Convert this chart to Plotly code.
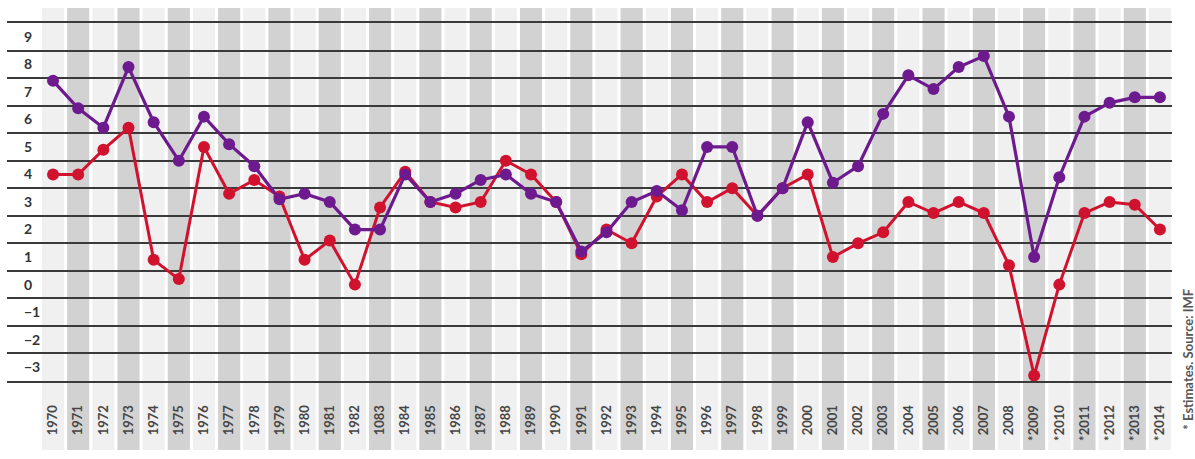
import plotly.graph_objects as go

years = list(range(1970, 2015))
year_labels = [str(y) for y in years]
year_labels[years.index(1983)] = "1083"
for y in range(2009, 2015):
    year_labels[years.index(y)] = "*" + str(y)

purple_values = [7.4, 6.4, 5.7, 7.9, 5.9, 4.5, 6.1, 5.1, 4.3, 3.1,
                 3.3, 3.0, 2.0, 2.0, 4.0, 3.0, 3.3, 3.8, 4.0, 3.3,
                 3.0, 1.2, 1.9, 3.0, 3.4, 2.7, 5.0, 5.0, 2.5, 3.5,
                 5.9, 3.7, 4.3, 6.2, 7.6, 7.1, 7.9, 8.3, 6.1, 1.0,
                 3.9, 6.1, 6.6, 6.8, 6.8]
red_values = [4.0, 4.0, 4.9, 5.7, 0.9, 0.2, 5.0, 3.3, 3.8, 3.2,
              0.9, 1.6, 0.0, 2.8, 4.1, 3.0, 2.8, 3.0, 4.5, 4.0,
              3.0, 1.1, 2.0, 1.5, 3.2, 4.0, 3.0, 3.5, 2.5, 3.5,
              4.0, 1.0, 1.5, 1.9, 3.0, 2.6, 3.0, 2.6, 0.7, -3.3,
              0.0, 2.6, 3.0, 2.9, 2.0]
y_ticks = list(range(-3, 10))
footnote = "* Estimates. Source: IMF"

PURPLE = "#6c1a8e"
RED = "#d1122f"
GRID = "#3a3a3a"
idx = list(range(len(years)))

fig = go.Figure()
fig.add_trace(go.Scatter(x=idx, y=red_values, mode="lines+markers",
                         line=dict(color=RED, width=3),
                         marker=dict(color=RED, size=12), showlegend=False))
fig.add_trace(go.Scatter(x=idx, y=purple_values, mode="lines+markers",
                         line=dict(color=PURPLE, width=3.2),
                         marker=dict(color=PURPLE, size=12), showlegend=False))

# alternating column bands
for i, yr in enumerate(years):
    fig.add_shape(type="rect", xref="x", yref="paper",
                  x0=i - 0.44, x1=i + 0.44, y0=-0.193, y1=1.042,
                  fillcolor="#d2d2d2" if yr % 2 else "#f0f0f0",
                  line=dict(width=0), layer="below")

fig.add_annotation(text=footnote, xref="paper", yref="paper",
                   x=1.013, y=0.06, textangle=-90, showarrow=False,
                   xanchor="center", yanchor="middle",
                   font=dict(family="Lato", size=13, color="#555555", weight="bold"))

fig.update_layout(
    width=1195, height=459,
    margin=dict(l=7, r=23, t=23, b=78),
    paper_bgcolor="white",
    plot_bgcolor="rgba(0,0,0,0)",
    font=dict(family="Lato", color="#3a3a3a"),
    xaxis=dict(range=[-1.83, 44.48], tickvals=idx, ticktext=year_labels,
               tickangle=-90, showgrid=False, zeroline=False,
               ticks="outside", ticklen=17, tickcolor="rgba(0,0,0,0)",
               tickfont=dict(family="Lato", size=13, color="#454545", weight="bold"),
               showline=True, mirror=True, linecolor=GRID, linewidth=2),
    yaxis=dict(range=[-3.5, 9.5], tickvals=y_ticks, showgrid=False, zeroline=False,
               ticklabelposition="inside", ticks="", ticklabelstandoff=14,
               showline=False,
               tickfont=dict(family="Lato", size=14, color="#333333", weight="bold"),
               minor=dict(tickvals=[v + 0.5 for v in range(-4, 10)], showgrid=True,
                          gridcolor=GRID, gridwidth=2)),
)

fig.write_html("out.html", config={"displayModeBar": False},
               post_script="document.body.style.margin='0';")
